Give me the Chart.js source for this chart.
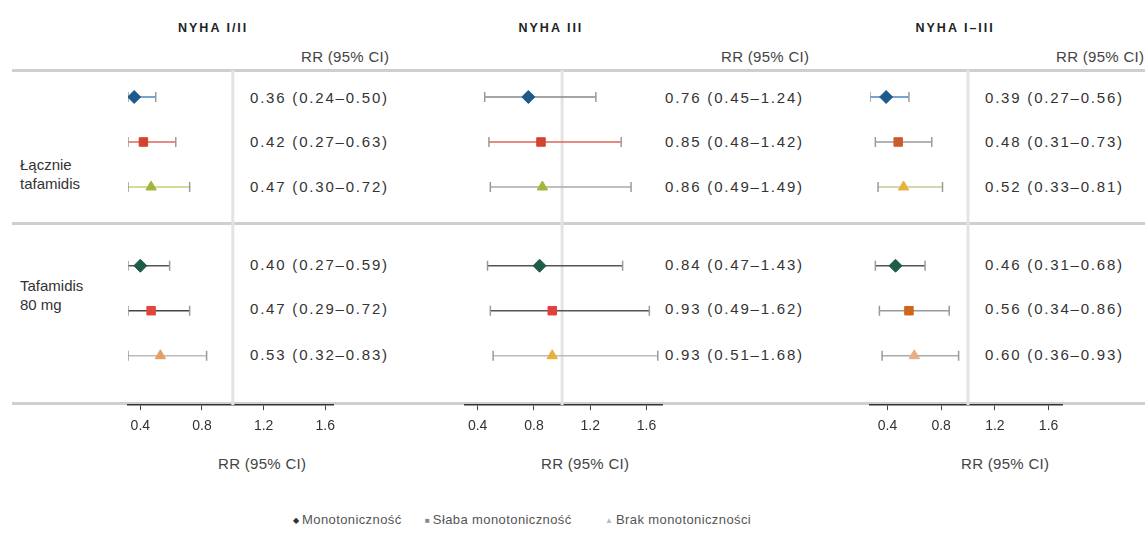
<!DOCTYPE html>
<html>
<head>
<meta charset="utf-8">
<script src="https://cdn.jsdelivr.net/npm/chart.js@4.4.1/dist/chart.umd.min.js"></script>
<style>
  body { margin: 0; width: 1145px; height: 542px; position: relative; overflow: hidden; background: #fff;
         font-family: "Liberation Sans", Arial, sans-serif; color: #333; }
  .t { position: absolute; white-space: nowrap; line-height: 1; }
  .hl { position: absolute; left: 12px; right: 0; height: 3px; background: #cfcfcf; }
  .cv { position: absolute; }
</style>
</head>
<body>
<div class="hl" style="top:69px"></div>
<div class="hl" style="top:222px"></div>
<div class="hl" style="top:402px"></div>
<script>
// categories
const panels = ["NYHA I/II", "NYHA III", "NYHA I–III"];
const groups = [["Łącznie", "tafamidis"], ["Tafamidis", "80 mg"]];
const series = ["Monotoniczność", "Słaba monotoniczność", "Brak monotoniczności"];
const tickVals = [0.4, 0.8, 1.2, 1.6];
const refValue = 1;
// row order: group 1 (3 series), group 2 (3 series)
const rowPos = [1, 2, 3, 4.75, 5.75, 6.75];

// RR and 95% CI per panel
const rrI_II = [0.36, 0.42, 0.47, 0.40, 0.47, 0.53];
const loI_II = [0.24, 0.27, 0.30, 0.27, 0.29, 0.32];
const hiI_II = [0.50, 0.63, 0.72, 0.59, 0.72, 0.83];

const rrIII = [0.76, 0.85, 0.86, 0.84, 0.93, 0.93];
const loIII = [0.45, 0.48, 0.49, 0.47, 0.49, 0.51];
const hiIII = [1.24, 1.42, 1.49, 1.43, 1.62, 1.68];

const rrI_III = [0.39, 0.48, 0.52, 0.46, 0.56, 0.60];
const loI_III = [0.27, 0.31, 0.33, 0.31, 0.34, 0.36];
const hiI_III = [0.56, 0.73, 0.81, 0.68, 0.86, 0.93];

const panelData = [
  { rr: rrI_II, lo: loI_II, hi: hiI_II },
  { rr: rrIII, lo: loIII, hi: hiIII },
  { rr: rrI_III, lo: loI_III, hi: hiI_III },
];

// layout + styles
const FONT = '"Liberation Sans", Arial, sans-serif';
const box = [
  { left: 128, right: 333, xMin: 0.32, xMax: 1.65, valX: 250, hdrX: 213, rrX: 345, axX: 262 },
  { left: 465, right: 662, xMin: 0.31, xMax: 1.71, valX: 665, hdrX: 551, rrX: 765, axX: 585 },
  { left: 870, right: 1062, xMin: 0.27, xMax: 1.70, valX: 985, hdrX: 955, rrX: 1100, axX: 1005 },
];
const rowY = [97, 141, 186, 264, 308, 354];
const shapes = ["rectRot", "rect", "triangle"];
const markerColors = [
  ["#1c5a8c", "#d3432e", "#a3b43c", "#1d5c45", "#e0473a", "#e3a066"],
  ["#1c5a8c", "#d3432e", "#a7b43a", "#1d5c45", "#e2403a", "#e6b03a"],
  ["#1c5a8c", "#c95c2e", "#e3b43a", "#1d5c45", "#d2651e", "#e8ae84"],
];
const lineColors = [
  ["#4a86c8", "#e0665a", "#c8cc74", "#555555", "#444444", "#bbbbbb"],
  ["#888888", "#e0665a", "#aaaaaa", "#555555", "#555555", "#bbbbbb"],
  ["#4a86c8", "#999999", "#c8c890", "#555555", "#999999", "#aaaaaa"],
];

function addText(txt, x, y, css, anchor) {
  const d = document.createElement("div");
  d.className = "t";
  d.textContent = txt;
  d.style.cssText = css;
  document.body.appendChild(d);
  const w = d.offsetWidth, h = d.offsetHeight;
  const left = anchor === "center" ? x - w / 2 : x;
  d.style.left = left + "px";
  d.style.top = (y - h / 2) + "px";
  return d;
}

// group labels
groups.forEach((g, gi) => {
  const y0 = gi === 0 ? 164 : 285;
  g.forEach((line, li) => addText(line, 20, y0 + li * 19, "font-size:15px;color:#333"));
});

panels.forEach((name, p) => {
  const b = box[p];
  const d = panelData[p];
  addText(name, b.hdrX, 28, "font-size:12.5px;font-weight:bold;letter-spacing:2px;color:#222", "center");
  addText("RR (95% CI)", b.rrX, 56, "font-size:15px;letter-spacing:0.3px;color:#444", "center");
  addText("RR (95% CI)", b.axX, 463, "font-size:15px;letter-spacing:0.3px;color:#444", "center");
  d.rr.forEach((v, i) => {
    const s = v.toFixed(2) + " (" + d.lo[i].toFixed(2) + "–" + d.hi[i].toFixed(2) + ")";
    addText(s, b.valX, rowY[i], "font-size:15px;letter-spacing:1.8px;color:#333");
  });

  const wrap = document.createElement("div");
  wrap.className = "cv";
  const w = b.right - b.left + 40, h = 393;
  wrap.style.cssText = `left:${b.left - 20}px;top:50px;width:${w}px;height:${h}px`;
  const cv = document.createElement("canvas");
  cv.width = w; cv.height = h;
  cv.style.width = w + "px"; cv.style.height = h + "px";
  wrap.appendChild(cv);
  document.body.appendChild(wrap);

  const datasets = [];
  d.rr.forEach((v, i) => {
    datasets.push({
      data: [{ x: v, y: rowPos[i] }],
      pointStyle: shapes[i % 3],
      pointRadius: i % 3 === 0 ? 6.5 : 6,
      backgroundColor: markerColors[p][i],
      borderColor: markerColors[p][i],
      order: 0,
    });
    datasets.push({
      data: [{ x: Math.max(d.lo[i], b.xMin), y: rowPos[i] }, { x: d.hi[i], y: rowPos[i] }],
      showLine: true,
      borderColor: lineColors[p][i],
      borderWidth: 1.5,
      pointStyle: "line",
      rotation: 90,
      pointRadius: 5,
      pointBorderColor: "#9a9a9a",
      pointBorderWidth: 1.5,
      order: 1,
    });
  });
  datasets.push({
    data: [{ x: refValue, y: 0.4 }, { x: refValue, y: 7.85 }],
    showLine: true,
    borderColor: "#e3e3e3",
    borderWidth: 3,
    pointRadius: 0,
    order: 2,
  });

  new Chart(cv, {
    type: "scatter",
    data: { datasets },
    options: {
      responsive: false,
      animation: false,
      layout: { padding: { left: 20, right: 20, top: 20, bottom: 0 } },
      plugins: { legend: { display: false }, tooltip: { enabled: false } },
      scales: {
        x: {
          type: "linear",
          min: b.xMin,
          max: b.xMax,
          afterBuildTicks: (s) => { s.ticks = tickVals.map((v) => ({ value: v })); },
          grid: { drawOnChartArea: false, drawTicks: true, tickLength: 5, color: "#444" },
          border: { display: true, color: "#333", width: 1.5 },
          ticks: { font: { size: 14, family: FONT }, color: "#333", padding: 8, maxRotation: 0 },
        },
        y: { type: "linear", min: 0.4, max: 7.85, reverse: true, display: false },
      },
    },
  });
});

// legend
const legendX = [293, 425, 605];
const legendGlyph = ["◆", "■", "▲"];
const legendColor = ["#333", "#888", "#bbb"];
series.forEach((s, k) => {
  const d = addText("", legendX[k], 519, "font-size:13px;letter-spacing:0.4px;color:#555");
  const g = document.createElement("span");
  g.textContent = legendGlyph[k] + " ";
  g.style.cssText = `color:${legendColor[k]};font-size:8px;vertical-align:middle`;
  d.appendChild(g);
  d.appendChild(document.createTextNode(s));
  d.style.top = (519 - d.offsetHeight / 2) + "px";
});
</script>
</body>
</html>
